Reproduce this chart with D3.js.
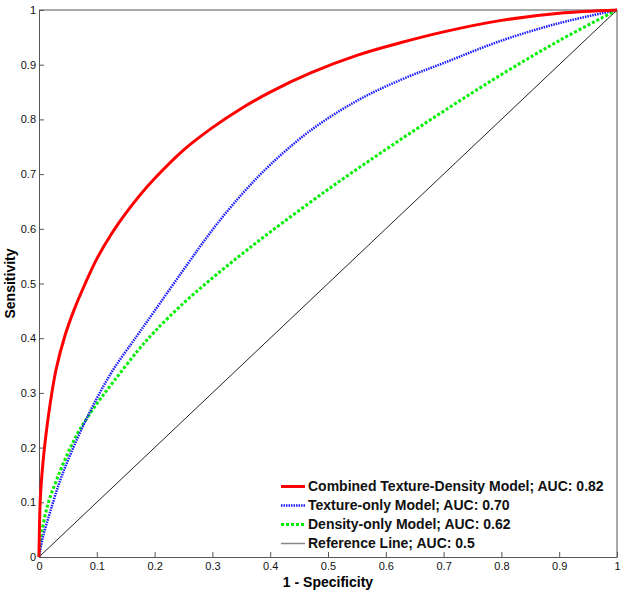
<!DOCTYPE html>
<html lang="en">
<head>
    <meta charset="UTF-8">
    <title>ROC Curves</title>
    <style>
        body { margin: 0; background: #fff; }
        #chart { width: 624px; height: 595px; }
        text { font-family: Arial, "Liberation Sans", sans-serif; }
    </style>
</head>
<body>
    <div id="chart"></div>
    <script src="https://d3js.org/d3.v7.min.js"></script>
    <script>
        // values: 1 - specificity (fpr) and sensitivity (tpr)
        const combinedFpr = [0, 0.002, 0.005, 0.01, 0.02, 0.03, 0.045, 0.06, 0.08, 0.1, 0.125, 0.15,
            0.175, 0.2, 0.25, 0.3, 0.35, 0.4, 0.47, 0.55, 0.625, 0.7, 0.8, 0.9, 1];
        const combinedTpr = [0, 0.10, 0.15, 0.205, 0.285, 0.345, 0.405, 0.45, 0.50, 0.545, 0.59, 0.628,
            0.662, 0.692, 0.744, 0.785, 0.82, 0.85, 0.885, 0.917, 0.94, 0.96, 0.981, 0.994, 1];

        const textureFpr = [0, 0.006, 0.02, 0.04, 0.07, 0.1, 0.13, 0.17, 0.2, 0.25, 0.3, 0.35, 0.4,
            0.47, 0.55, 0.625, 0.7, 0.8, 0.9, 1];
        const textureTpr = [0, 0.033, 0.085, 0.15, 0.225, 0.29, 0.345, 0.405, 0.45, 0.525, 0.598, 0.662,
            0.717, 0.78, 0.834, 0.872, 0.903, 0.944, 0.976, 1];

        const densityFpr = [0, 0.004, 0.015, 0.03, 0.05, 0.07, 0.1, 0.13, 0.17, 0.2, 0.25, 0.3, 0.35,
            0.4, 0.5, 0.6, 0.7, 0.8, 0.9, 1];
        const densityTpr = [0, 0.04, 0.095, 0.14, 0.19, 0.232, 0.28, 0.322, 0.376, 0.412, 0.464, 0.51,
            0.553, 0.594, 0.672, 0.745, 0.815, 0.882, 0.944, 1];

        const referenceFpr = [0, 1];
        const referenceTpr = [0, 1];

        const seriesNames = [
            "Combined Texture-Density Model; AUC: 0.82",
            "Texture-only Model; AUC: 0.70",
            "Density-only Model; AUC: 0.62",
            "Reference Line; AUC: 0.5"
        ];
        const tickValues = [0, 0.1, 0.2, 0.3, 0.4, 0.5, 0.6, 0.7, 0.8, 0.9, 1];
        const tickLabels = ["0", "0.1", "0.2", "0.3", "0.4", "0.5", "0.6", "0.7", "0.8", "0.9", "1"];

        const W = 624, H = 595;
        const margin = {left: 39, right: 7, top: 10, bottom: 38};

        const svg = d3.select("#chart").append("svg")
            .attr("width", W)
            .attr("height", H);

        const x = d3.scaleLinear().domain([0, 1]).range([margin.left, W - margin.right]);
        const y = d3.scaleLinear().domain([0, 1]).range([H - margin.bottom, margin.top]);

        const fmt = d => tickLabels[tickValues.indexOf(d)];

        // axes, ticks point inward
        const gx = svg.append("g")
            .attr("transform", `translate(0,${y(0)})`)
            .call(d3.axisBottom(x).tickValues(tickValues).tickFormat(fmt)
                .tickSizeInner(-5).tickSizeOuter(0).tickPadding(5));
        const gy = svg.append("g")
            .attr("transform", `translate(${x(0)},0)`)
            .call(d3.axisLeft(y).tickValues(tickValues).tickFormat(fmt)
                .tickSizeInner(-5).tickSizeOuter(0).tickPadding(3));
        [gx, gy].forEach(g => {
            g.select(".domain").attr("stroke", "#555");
            g.selectAll(".tick line").attr("stroke", "#555");
            g.selectAll(".tick text").attr("font-size", 11).attr("fill", "#111")
                .attr("font-family", "Arial, 'Liberation Sans', sans-serif");
        });

        // box top + right
        svg.append("path")
            .attr("d", `M${x(0)},${y(1)}H${x(1)}V${y(0)}`)
            .attr("fill", "none")
            .attr("stroke", "#555");

        const line = d3.line()
            .x(d => x(d[0]))
            .y(d => y(d[1]))
            .curve(d3.curveCatmullRom.alpha(0.5));

        const zip = (a, b) => a.map((v, i) => [v, b[i]]);

        const styles = [
            {data: zip(combinedFpr, combinedTpr), color: "#ff0000", width: 3, dash: null},
            {data: zip(textureFpr, textureTpr), color: "#1a1aff", width: 2.5, dash: "1.5,1"},
            {data: zip(densityFpr, densityTpr), color: "#00ee00", width: 3, dash: "3,2"},
            {data: zip(referenceFpr, referenceTpr), color: "#222", width: 1, dash: null}
        ];

        // back to front so red ends on top
        styles.slice().reverse().forEach(s => {
            svg.append("path")
                .datum(s.data)
                .attr("fill", "none")
                .attr("stroke", s.color)
                .attr("stroke-width", s.width)
                .attr("stroke-dasharray", s.dash)
                .attr("d", line);
        });

        // legend
        const legend = svg.append("g");
        styles.forEach((s, i) => {
            const cy = 486 + i * 19;
            legend.append("line")
                .attr("x1", 281).attr("x2", 305)
                .attr("y1", cy + 0.5).attr("y2", cy + 0.5)
                .attr("stroke", i === 3 ? "#888" : s.color)
                .attr("stroke-width", i === 3 ? 1.5 : s.width)
                .attr("stroke-dasharray", s.dash);
            legend.append("text")
                .attr("x", 308).attr("y", cy + 5)
                .attr("font-size", 14).attr("font-weight", "bold")
                .attr("fill", "#111")
                .text(seriesNames[i]);
        });

        // axis titles
        svg.append("text")
            .attr("x", (x(0) + x(1)) / 2).attr("y", 587)
            .attr("text-anchor", "middle")
            .attr("font-size", 14).attr("font-weight", "bold")
            .text("1 - Specificity");
        svg.append("text")
            .attr("transform", `translate(15,${(y(0) + y(1)) / 2}) rotate(-90)`)
            .attr("text-anchor", "middle")
            .attr("font-size", 14).attr("font-weight", "bold")
            .text("Sensitivity");
    </script>
</body>
</html>
